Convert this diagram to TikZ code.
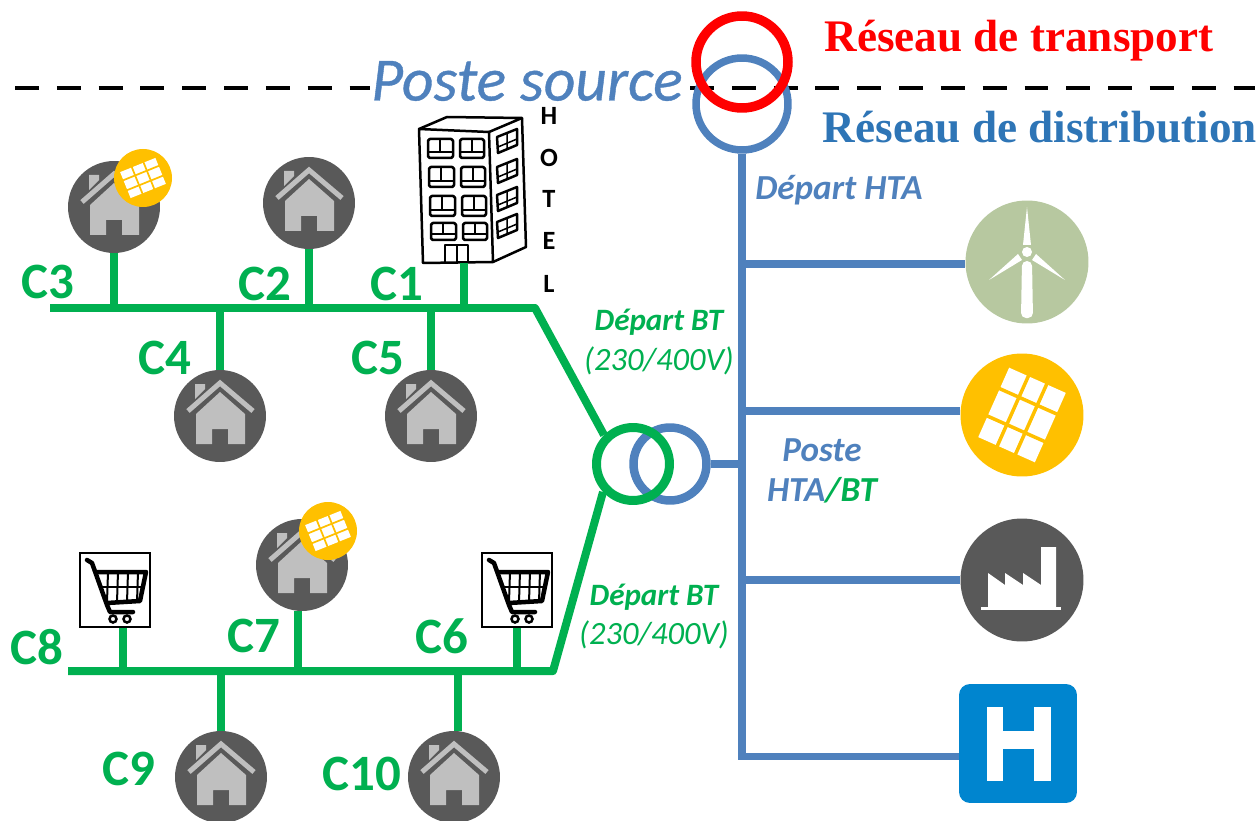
\documentclass[tikz,border=0pt]{standalone}
\usepackage{fontspec}
\usepackage{xcolor}
\setmainfont{Carlito}
\newfontfamily\titlefont{Liberation Serif}
\newfontfamily\sourcefont[ItalicFeatures={FakeBold=0.6}]{Carlito}
\usetikzlibrary{shapes,calc,positioning}
\definecolor{btgreen}{HTML}{00B050}
\definecolor{htablue}{HTML}{4F81BD}
\definecolor{titleblue}{HTML}{2E75B6}
\definecolor{darkdisc}{HTML}{595959}
\definecolor{lightroof}{HTML}{BFBFBF}
\definecolor{solaryellow}{HTML}{FFC000}
\definecolor{winddisc}{HTML}{B7C8A0}
\definecolor{hospblue}{HTML}{0085CF}
\tikzset{
  btline/.style={draw=btgreen,line width=0.16cm,line join=round},
  htaline/.style={draw=htablue,line width=0.15cm,line join=round},
  housedisc/.style={circle,fill=darkdisc,inner sep=0pt,minimum size=1.84cm},
  bigdisc/.style={circle,inner sep=0pt,minimum size=2.46cm},
  paneldisc/.style={circle,fill=solaryellow,inner sep=0pt,minimum size=#1},
  cartbox/.style={rectangle,draw=black,line width=0.05cm,fill=white,inner sep=0pt,minimum width=1.4cm,minimum height=1.48cm},
  hotelbox/.style={rectangle,inner sep=0pt,minimum width=2.4cm,minimum height=2.92cm},
  trafo/.style={circle,inner sep=0pt,line width=#1},
  clabel/.style={text=btgreen,font=\fontsize{29}{31}\selectfont\bfseries},
  departbt/.style={text=btgreen,font=\fontsize{17.7}{20}\selectfont\bfseries\itshape},
  voltlabel/.style={text=btgreen,font=\fontsize{18.5}{21}\selectfont\itshape},
  htalabel/.style={text=htablue,font=\fontsize{20}{22}\selectfont\bfseries\itshape},
  titlelabel/.style={font=\fontsize{25.7}{30}\selectfont\titlefont\bfseries},
  hotelletter/.style={text=black,inner sep=0pt,font=\fontsize{15}{17}\selectfont\bfseries},
}
% house in its disc
\newcommand\Maison[2]{%
  \node (#1) [housedisc] at (#2) {};
  \begin{scope}[shift={(#2)}]
    \fill[lightroof] (-25,-32) -- (-15,-32) -- (-15,-27) -- (-25,-17) -- cycle;
    \draw[lightroof,line width=0.1cm] (-32,-5) -- (0,-33) -- (33,-5);
    \fill[lightroof] (-24,28) -- (-24,-2) -- (0,-24) -- (25,-2) -- (25,28) -- (8,28) -- (8,13) -- (-8,13) -- (-8,28) -- cycle;
  \end{scope}}
% solar panel: name, centre, diameter, angle, half width, half height
\newcommand\Panneau[6]{%
  \node (#1) [paneldisc=#3*0.02cm] at (#2) {};
  \begin{scope}[shift={(#2)},rotate=#4]
    \fill[white] (-#5,-#6) rectangle (#5,#6);
    \foreach \s in {-1,1}{
      \draw[solaryellow,line width=#3*0.0006cm] (\s*#5/3,-#6-1) -- (\s*#5/3,#6+1);
      \draw[solaryellow,line width=#3*0.0006cm] (-#5-1,\s*#6*0.38) -- (#5+1,\s*#6*0.38);
    }
  \end{scope}}
% shopping cart in its box
\newcommand\Caddie[2]{%
  \node (#1) [cartbox] at (#2) {};
  \begin{scope}[shift={(#2)},black]
    \draw[line width=0.09cm,line cap=round,line join=round] (-28,-30) -- (-23,-27) -- (-8,15) -- (-5,22) -- (18,22);
    \draw[line width=0.09cm,line join=round] (-18,-18) -- (31,-18) -- (25,11) -- (-8,13);
    \foreach \x in {-7,3,13,23}
      \draw[line width=0.04cm] (\x,-18) -- (\x-1,12);
    \draw[line width=0.04cm] (-15,-3) -- (28,-3);
    \foreach \x in {-2,12}
      \draw[line width=0.05cm] (\x,29) circle (3.5);
  \end{scope}}

\begin{document}
\begin{tikzpicture}[x=0.02cm,y=-0.02cm]
  \useasboundingbox (0,0) rectangle (1259,821);

  % network limit
  \draw[black,line width=0.09cm,dash pattern=on 13.6pt off 10.2pt] (15,88) -- (370,88);
  \draw[black,line width=0.09cm,dash pattern=on 13.6pt off 10.2pt] (690,88) -- (1255,88);

  \node (postesource) [text=htablue,inner sep=0pt,font=\fontsize{35}{38}\selectfont\sourcefont\itshape] at (527,81) {Poste source};
  \node (transport) [titlelabel,text=red] at (1019,41) {Réseau de transport};
  \node (distribution) [titlelabel,text=titleblue] at (1040,127) {Réseau de distribution};

  % HTA side
  \node (srcblue) [trafo=0.15cm,draw=htablue,minimum size=1.84cm] at (742,104) {};
  \node (srcred) [trafo=0.19cm,draw=red,minimum size=1.84cm] at (742,62) {};
  \node (wind) [bigdisc,fill=winddisc] at (1027,262) {};
  \node (solar) [bigdisc,fill=solaryellow] at (1022,415) {};
  \node (factory) [bigdisc,fill=darkdisc] at (1022,580) {};
  \node (hospital) [rectangle,rounded corners=0.22cm,fill=hospblue,inner sep=0pt,minimum width=2.36cm,minimum height=2.38cm] at (1018,743.5) {};
  \coordinate (htaend) at (743,760);

  \draw[htaline] (srcblue.south) -- (srcblue.south |- htaend);
  \draw[htaline] ($(srcblue.south |- wind)+(0,2)$) -- ($(wind.west)+(0,2)$);
  \draw[htaline] ($(srcblue.south |- solar)+(0,-4)$) -- ($(solar.west)+(0,-4)$);
  \draw[htaline] (srcblue.south |- factory) -- (factory.west);
  \draw[htaline] ($(srcblue.south |- hospital.west)+(0,13)$) -- ($(hospital.west)+(0,13)$);

  % wind turbine
  \begin{scope}[shift={(wind)},white]
    \fill (-4,-17) -- (0,-55) -- (4,-17) -- cycle;
    \fill (-9,-8) -- (-38,18) -- (-5,-2) -- cycle;
    \fill (9,-8) -- (38,18) -- (5,-2) -- cycle;
    \fill (0,-10) circle (5);
    \fill[rounded corners=0.1cm] (-5,-1) -- (5,-1) -- (6,56) -- (-6,56) -- cycle;
  \end{scope}

  % big solar panel
  \begin{scope}[shift={(solar)},rotate=-24]
    \fill[white] (-31,-38) rectangle (31,38);
    \foreach \s in {-1,1}{
      \draw[solaryellow,line width=0.07cm] (\s*10,-39) -- (\s*10,39);
      \draw[solaryellow,line width=0.07cm] (-32,\s*15) -- (32,\s*15);
    }
  \end{scope}

  % factory
  \begin{scope}[shift={(factory)}]
    \fill[white] (-34,27) -- (-34,-7) -- (-17,5) -- (-17,-7) -- (1,5) -- (1,-7) -- (19,5) -- (19,-33) -- (34,-33) -- (34,27) -- cycle;
    \fill[white] (-41,27) rectangle (39,30);
  \end{scope}

  % hospital H
  \begin{scope}[shift={(hospital)}]
    \fill[white] (-31,-37) rectangle (-15,37);
    \fill[white] (16,-37) rectangle (33,37);
    \fill[white] (-31,-13) rectangle (33,5);
  \end{scope}

  % BT side
  \node (hta) [trafo=0.17cm,draw=htablue,minimum size=1.46cm] at (670,464) {};
  \node (bt) [trafo=0.18cm,draw=btgreen,minimum size=1.46cm] at (633,464) {};
  \draw[htaline] (hta.east) -- (hta.east -| htaend);

  \coordinate (busup) at (50,308);
  \coordinate (bendup) at (535,308);
  \coordinate (busdown) at (68,671);
  \coordinate (benddown) at (553,671);
  \draw[btline] (busup) -- (bendup) -- (bt.135);
  \draw[btline] (busdown) -- (benddown) -- (bt.223);

  % customers
  \Maison{c3}{114,207}
  \Maison{c2}{309,203}
  \Maison{c4}{220,416}
  \Maison{c5}{431,416}
  \Maison{c7}{302,565}
  \Maison{c9}{221,777}
  \Maison{c10}{454,777}
  \Panneau{pvc3}{143,178}{58}{22}{19}{14}
  \Panneau{pvc7}{328,531}{58}{22}{19}{14}
  \Caddie{c8}{115,590}
  \Caddie{c6}{517,590}
  \node (c1) [hotelbox] at (464,190) {};

  % hotel
  \begin{scope}[black,line width=0.05cm,line join=round]
    \draw (419,129) -- (489,132) -- (493,262) -- (423,263) -- cycle;
    \draw (419,129) -- (447,117) -- (522,118) -- (489,132);
    \draw (522,118) -- (526,247) -- (493,262);
    \foreach \yt/\yb/\dx in {139/158/0,167/187/1,196/216/2,223/240/3}{
      \draw[rounded corners=1pt] (428+\dx,\yt) rectangle (453+\dx,\yb);
      \draw[rounded corners=1pt] (460+\dx,\yt) rectangle (484+\dx,\yb);
      \draw[line width=0.03cm] (428+\dx,\yb-6) -- (453+\dx,\yb-6) (440+\dx,\yt) -- (440+\dx,\yb-6);
      \draw[line width=0.03cm] (460+\dx,\yb-6) -- (484+\dx,\yb-6) (472+\dx,\yt) -- (472+\dx,\yb-6);
    }
    \foreach \dy in {0,30,58,85}{
      \draw (497,137+\dy) -- (517,129+\dy) -- (517,145+\dy) -- (498,153+\dy) -- cycle;
      \draw[line width=0.03cm] (498,147+\dy) -- (517,139+\dy) (507,133+\dy) -- (507,149+\dy);
    }
    \draw (445,263) -- (445,245) -- (468,245) -- (468,263);
    \draw[line width=0.03cm] (457,245) -- (457,263);
  \end{scope}
  \foreach \lettre/\ypos in {H/116,O/158,T/199,E/241,L/284}
    \node (hotel\lettre) [hotelletter] at (549,\ypos) {\lettre};

  % branches
  \draw[btline] (c3.south) -- (c3.south |- busup);
  \draw[btline] (c2.south) -- (c2.south |- busup);
  \draw[btline] (c1.south) -- (c1.south |- busup);
  \draw[btline] (c4.north) -- (c4.north |- busup);
  \draw[btline] (c5.north) -- (c5.north |- busup);
  \draw[btline] ($(c7.south)+(-4,0)$) -- ($(c7.south |- busdown)+(-4,0)$);
  \draw[btline] (c6.south) -- (c6.south |- busdown);
  \draw[btline] ($(c8.south)+(8,0)$) -- ($(c8.south |- busdown)+(8,0)$);
  \draw[btline] (c9.north) -- (c9.north |- busdown);
  \draw[btline] ($(c10.north)+(4,0)$) -- ($(c10.north |- busdown)+(4,0)$);

  % customer names
  \node (lc3) [clabel] at (48,282) {C3};
  \node (lc2) [clabel] at (265,284) {C2};
  \node (lc1) [clabel] at (397,284) {C1};
  \node (lc4) [clabel] at (165,358) {C4};
  \node (lc5) [clabel] at (378,358) {C5};
  \node (lc7) [clabel] at (254,636) {C7};
  \node (lc6) [clabel] at (442,636) {C6};
  \node (lc8) [clabel] at (37,647) {C8};
  \node (lc9) [clabel] at (129,769) {C9};
  \node (lc10) [clabel] at (362,774) {C10};

  \node (departhta) [htalabel] at (839,190) {Départ HTA};
  \node (departa) [departbt] at (659,322) {Départ BT};
  \node (volta) [voltlabel] at (659,361) {(230/400V)};
  \node (departb) [departbt] at (654,597) {Départ BT};
  \node (voltb) [voltlabel] at (654,635) {(230/400V)};
  \node (posteA) [htalabel] at (822,450) {Poste};
  \node (posteB) [htalabel] at (822,490) {HTA\textcolor{btgreen}{/BT}};
\end{tikzpicture}
\end{document}
